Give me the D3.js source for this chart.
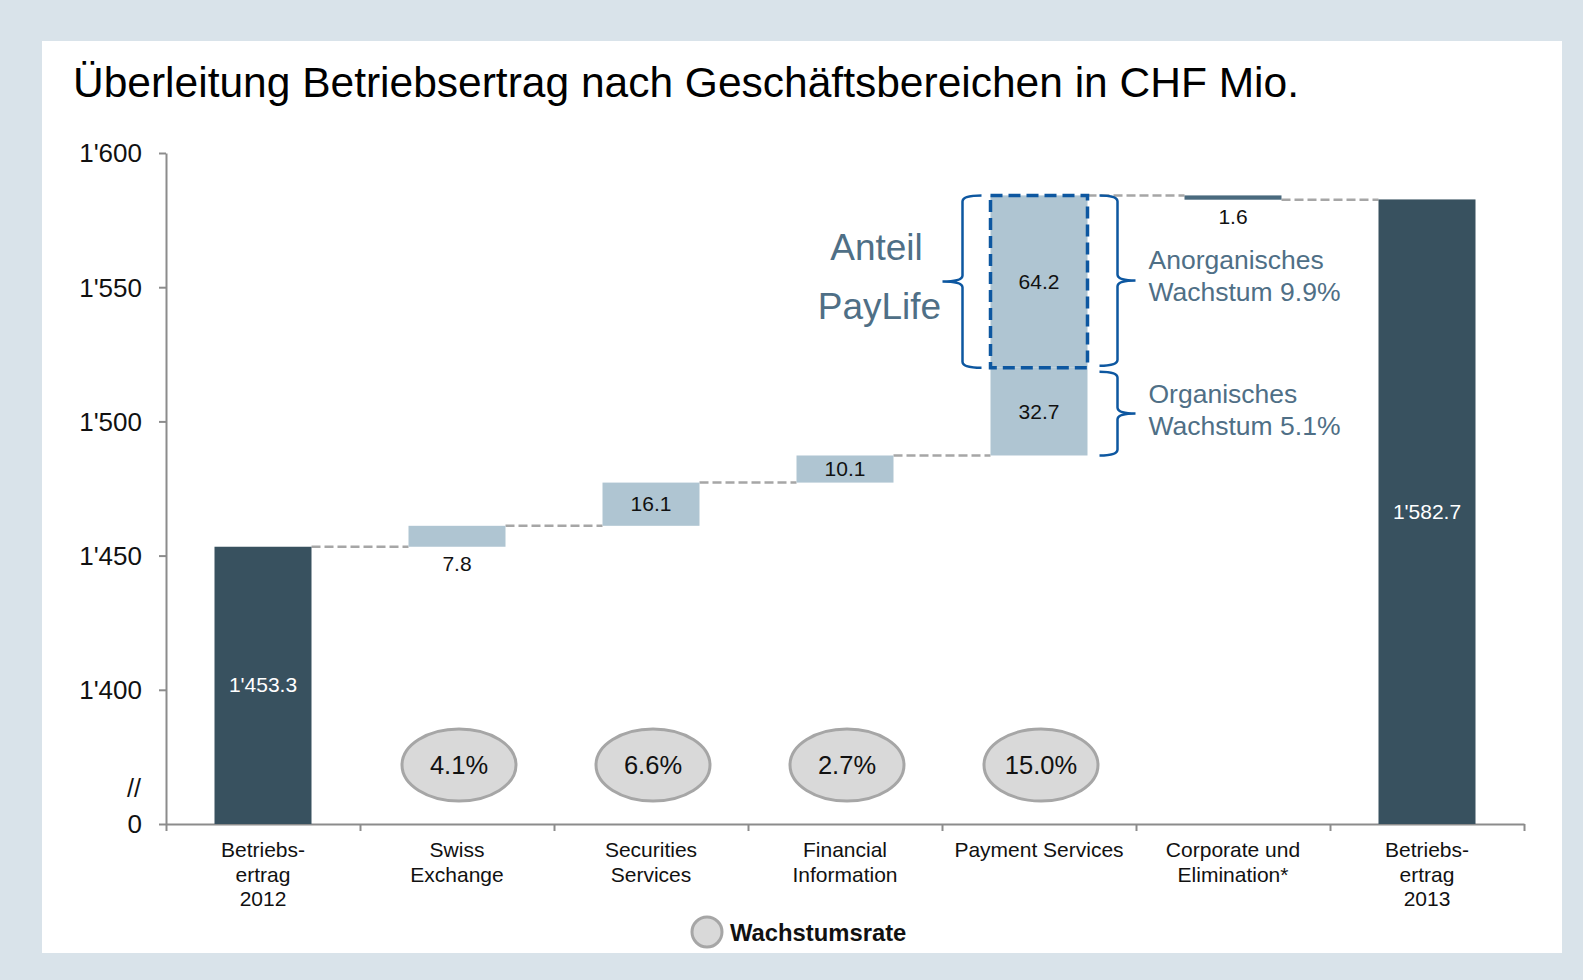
<!DOCTYPE html>
<html>
<head>
<meta charset="utf-8">
<script src="https://cdn.jsdelivr.net/npm/d3@7"></script>
<style>
  body { margin: 0; background: #d9e3ea; }
  svg { display: block; font-family: "Liberation Sans", Arial, sans-serif; }
  .axis path, .axis line { stroke: #8c8c8c; stroke-width: 2; }
  .axis text { fill: #111; font-size: 26px; font-family: "Liberation Sans", Arial, sans-serif; }
</style>
</head>
<body>
<svg id="chart"></svg>
<script>
const WIDTH = 1583;
const HEIGHT = 980;

// data
const categoryLabels = [
  ["Betriebs-", "ertrag", "2012"],
  ["Swiss", "Exchange"],
  ["Securities", "Services"],
  ["Financial", "Information"],
  ["Payment Services"],
  ["Corporate und", "Elimination*"],
  ["Betriebs-", "ertrag", "2013"],
];
const openingTotal = 1453.3;
const closingTotal = 1582.7;
const stepCategory = [1, 2, 3, 4, 4, 5];
const stepValues = [7.8, 16.1, 10.1, 32.7, 64.2, -1.6];
const growthRates = [null, "4.1%", "6.6%", "2.7%", "15.0%", null, null];
const yTickValues = [1350, 1400, 1450, 1500, 1550, 1600]; // 1350 = axis break, shown as 0

const COLORS = {
  total: "#38515f",
  up: "#afc5d2",
  down: "#4a6a7e",
  connector: "#a6a6a6",
  brace: "#0d57a0",
  note: "#4f6f86",
};

const MARGINS = { left: 166, right: 59, top: 153, bottom: 156 };

const svg = d3.select("#chart").attr("width", WIDTH).attr("height", HEIGHT);

svg.append("rect").attr("width", WIDTH).attr("height", HEIGHT).attr("fill", "#d9e3ea");
svg.append("rect")
  .attr("x", 42).attr("y", 41)
  .attr("width", 1520).attr("height", 912)
  .attr("fill", "#fff");

svg.append("text")
  .attr("x", 73).attr("y", 97)
  .attr("font-size", 42.5)
  .attr("fill", "#000")
  .text("Überleitung Betriebsertrag nach Geschäftsbereichen in CHF Mio.");

const idx = d3.range(categoryLabels.length);

const x = d3.scaleBand()
  .domain(idx)
  .range([MARGINS.left, WIDTH - MARGINS.right])
  .paddingInner(0.5)
  .paddingOuter(0.25);

const y = d3.scaleLinear()
  .domain([1350, 1600])
  .range([HEIGHT - MARGINS.bottom, MARGINS.top]);

const locale = d3.formatLocale({
  decimal: ".",
  thousands: "'",
  grouping: [3],
  currency: ["", ""],
});
const fmt = locale.format(",.1f");
const fmtTick = locale.format(",d");

// build waterfall segments
const bars = [];
bars.push({ cat: 0, y0: 1350, y1: openingTotal, value: openingTotal, kind: "total" });
let running = openingTotal;
stepValues.forEach((v, i) => {
  const from = running;
  running += v;
  bars.push({
    cat: stepCategory[i],
    y0: Math.min(from, running),
    y1: Math.max(from, running),
    start: from,
    end: running,
    value: v,
    kind: v >= 0 ? "up" : "down",
  });
});
bars.push({ cat: 6, y0: 1350, y1: closingTotal, value: closingTotal, kind: "total" });

// axes
const yAxis = d3.axisLeft(y)
  .tickValues(yTickValues)
  .tickSize(7)
  .tickSizeOuter(0)
  .tickPadding(17)
  .tickFormat((d) => (d === 1350 ? "0" : fmtTick(d)));

svg.append("g")
  .attr("class", "axis y-axis")
  .attr("transform", `translate(${MARGINS.left}, 0)`)
  .call(yAxis)
  .call((g) => g.selectAll("text").attr("dy", "0.34em"));

svg.append("text")
  .attr("x", 141)
  .attr("y", y(1350) - 27)
  .attr("text-anchor", "end")
  .attr("font-size", 25)
  .attr("fill", "#111")
  .text("//");

const xEdges = d3.scaleLinear()
  .domain([0, categoryLabels.length])
  .range([MARGINS.left, WIDTH - MARGINS.right]);

svg.append("g")
  .attr("class", "axis x-axis")
  .attr("transform", `translate(0, ${y(1350)})`)
  .call(
    d3.axisBottom(xEdges)
      .tickValues(d3.range(categoryLabels.length + 1))
      .tickSize(7)
      .tickSizeOuter(0)
      .tickFormat("")
  );

const xLabels = svg.append("g");
categoryLabels.forEach((lines, i) => {
  const t = xLabels.append("text")
    .attr("x", x(i) + x.bandwidth() / 2)
    .attr("y", y(1350) + 33)
    .attr("text-anchor", "middle")
    .attr("font-size", 21)
    .attr("fill", "#111");
  lines.forEach((line, j) => {
    t.append("tspan")
      .attr("x", x(i) + x.bandwidth() / 2)
      .attr("dy", j === 0 ? 0 : 24.5)
      .text(line);
  });
});

// connectors
const connectors = svg.append("g");
for (let i = 0; i < bars.length - 1; i++) {
  const a = bars[i];
  const b = bars[i + 1];
  if (a.cat === b.cat) continue;
  const level = a.kind === "total" ? a.y1 : a.end;
  connectors.append("line")
    .attr("x1", x(a.cat) + x.bandwidth())
    .attr("x2", x(b.cat))
    .attr("y1", y(level))
    .attr("y2", y(level))
    .attr("stroke", COLORS.connector)
    .attr("stroke-width", 2.5)
    .attr("stroke-dasharray", "9 4");
}

// bars
svg.append("g")
  .selectAll("rect")
  .data(bars)
  .join("rect")
  .attr("x", (d) => x(d.cat))
  .attr("width", x.bandwidth())
  .attr("y", (d) => y(d.y1))
  .attr("height", (d) => y(d.y0) - y(d.y1))
  .attr("fill", (d) => COLORS[d.kind]);

// value labels
svg.append("g")
  .selectAll("text")
  .data(bars)
  .join("text")
  .attr("x", (d) => x(d.cat) + x.bandwidth() / 2)
  .attr("y", (d) => {
    const h = y(d.y0) - y(d.y1);
    if (h < 24) return y(d.y0) + 24;
    return (y(d.y0) + y(d.y1)) / 2 + 7;
  })
  .attr("text-anchor", "middle")
  .attr("font-size", 21)
  .attr("fill", (d) => (d.kind === "total" ? "#fff" : "#111"))
  .text((d) => fmt(Math.abs(d.value)));

// PayLife annotation
const organic = bars[4];
const inorganic = bars[5];
const px0 = x(inorganic.cat);
const px1 = px0 + x.bandwidth();

svg.append("rect")
  .attr("x", px0)
  .attr("y", y(inorganic.y1))
  .attr("width", x.bandwidth())
  .attr("height", y(inorganic.y0) - y(inorganic.y1))
  .attr("fill", "none")
  .attr("stroke", COLORS.brace)
  .attr("stroke-width", 3.5)
  .attr("stroke-dasharray", "12 6");

function brace(spine, armX, tipX, top, bot) {
  const mid = (top + bot) / 2;
  const r = 6;
  return `M${armX},${top} Q${spine},${top} ${spine},${top + r}
    L${spine},${mid - r} Q${spine},${mid} ${tipX},${mid}
    Q${spine},${mid} ${spine},${mid + r}
    L${spine},${bot - r} Q${spine},${bot} ${armX},${bot}`;
}

const braces = svg.append("g")
  .attr("fill", "none")
  .attr("stroke", COLORS.brace)
  .attr("stroke-width", 2.5);

const topA = y(inorganic.y1);
const topB = y(inorganic.y0);
const botA = y(organic.y1);
const botB = y(organic.y0);

braces.append("path").attr("d", brace(px0 - 28, px0 - 9, px0 - 48, topA, topB));
braces.append("path").attr("d", brace(px1 + 30, px1 + 12, px1 + 48, topA, topB - 2));
braces.append("path").attr("d", brace(px1 + 30, px1 + 12, px1 + 48, botA + 4, botB));

const midTop = (topA + topB) / 2;
const midBot = (botA + botB) / 2;

svg.append("g")
  .attr("fill", COLORS.note)
  .attr("font-size", 37)
  .attr("text-anchor", "middle")
  .call((g) => {
    g.append("text").attr("x", px0 - 114).attr("y", midTop - 22).text("Anteil");
    g.append("text").attr("x", px0 - 111).attr("y", midTop + 37).text("PayLife");
  });

svg.append("g")
  .attr("fill", COLORS.note)
  .attr("font-size", 26.5)
  .call((g) => {
    g.append("text").attr("x", px1 + 61).attr("y", midTop - 13).text("Anorganisches");
    g.append("text").attr("x", px1 + 61).attr("y", midTop + 19).text("Wachstum 9.9%");
    g.append("text").attr("x", px1 + 61).attr("y", midBot - 9).text("Organisches");
    g.append("text").attr("x", px1 + 61).attr("y", midBot + 23).text("Wachstum 5.1%");
  });

// growth rate bubbles
const bubbles = svg.append("g")
  .selectAll("g")
  .data(idx.filter((i) => growthRates[i]))
  .join("g")
  .attr("transform", (i) => `translate(${x(i) + x.bandwidth() / 2 + 2}, ${y(1350) - 59})`);

bubbles.append("ellipse")
  .attr("rx", 57)
  .attr("ry", 36)
  .attr("fill", "#d9d9d9")
  .attr("stroke", "#a6a6a6")
  .attr("stroke-width", 3);

bubbles.append("text")
  .attr("text-anchor", "middle")
  .attr("y", 9)
  .attr("font-size", 25.5)
  .attr("fill", "#111")
  .text((i) => growthRates[i]);

// legend
const legend = svg.append("g").attr("transform", "translate(707, 932)");
legend.append("circle")
  .attr("r", 15)
  .attr("fill", "#d9d9d9")
  .attr("stroke", "#a6a6a6")
  .attr("stroke-width", 3);
legend.append("text")
  .attr("x", 23)
  .attr("y", 9)
  .attr("font-size", 23.8)
  .attr("font-weight", "bold")
  .attr("fill", "#111")
  .text("Wachstumsrate");
</script>
</body>
</html>
